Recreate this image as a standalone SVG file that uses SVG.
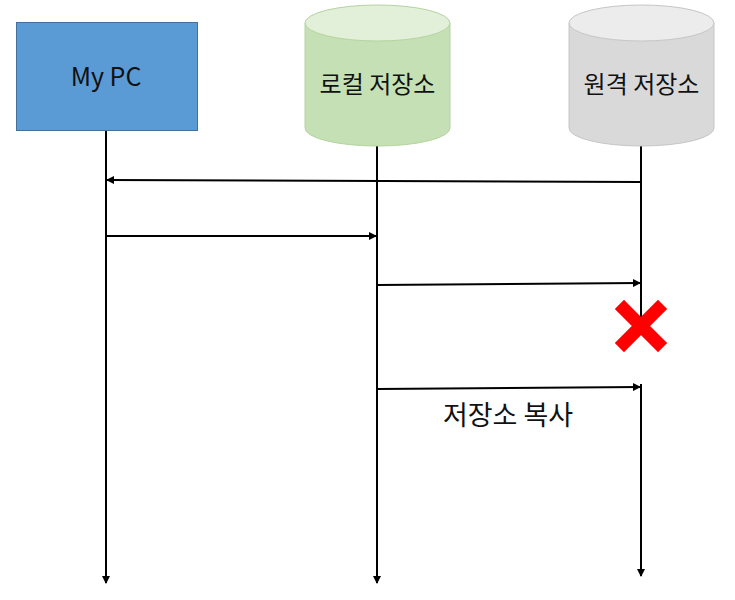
<svg xmlns="http://www.w3.org/2000/svg" width="735" height="600" viewBox="0 0 735 600">
<style>
.t{font-family:"Malgun Gothic","Noto Sans CJK KR","Noto Sans",sans-serif;fill:#111;text-anchor:middle}
.ln{stroke:#000;stroke-width:2;fill:none}
.ar{marker-end:url(#ah)}
</style>
<defs>
<marker id="ah" markerWidth="8" markerHeight="8" refX="7" refY="4" orient="auto" markerUnits="userSpaceOnUse">
<path d="M0,0 L8,4 L0,8 Z" fill="#000"/>
</marker>
</defs>
<rect width="735" height="600" fill="#fff"/>
<g id="connectors">
<line class="ln ar" x1="106" y1="130" x2="106" y2="583"/>
<line class="ln ar" x1="377" y1="146" x2="377" y2="583"/>
<line class="ln" x1="641" y1="146" x2="641" y2="318"/>
<line class="ln ar" x1="641" y1="384" x2="641" y2="576"/>
<line class="ln ar" x1="641" y1="182" x2="107" y2="180"/>
<line class="ln ar" x1="106" y1="236" x2="376" y2="236"/>
<line class="ln ar" x1="377" y1="285" x2="640" y2="283"/>
<line class="ln ar" x1="377" y1="389" x2="640" y2="387"/>
</g>
<g id="mypc">
<rect x="16.5" y="22.5" width="181" height="108" fill="#5b9bd5" stroke="#41719c" stroke-width="1"/>
<text class="t" x="106" y="86" font-size="25">My PC</text>
</g>
<g id="local">
<path d="M305,23 V128 A72.5,18 0 0 0 450,128 V23" fill="#c5e0b4" stroke="#b5d3a0" stroke-width="1"/>
<ellipse cx="377.5" cy="23" rx="72.5" ry="18" fill="#e2f0d9" stroke="#b5d3a0" stroke-width="1"/>
<text class="t" x="377.5" y="93" font-size="24">로컬 저장소</text>
</g>
<g id="remote">
<path d="M569,23 V128 A72.5,18 0 0 0 714,128 V23" fill="#d9d9d9" stroke="#c6c6c6" stroke-width="1"/>
<ellipse cx="641.5" cy="23" rx="72.5" ry="18" fill="#ececec" stroke="#c6c6c6" stroke-width="1"/>
<text class="t" x="641.5" y="93" font-size="24">원격 저장소</text>
</g>
<g id="fail">
<path d="M624,309 L658,343 M658,309 L624,343" stroke="#ff0000" stroke-width="13" stroke-linecap="square"/>
</g>
<g id="label">
<text class="t" x="508" y="425" font-size="27">저장소 복사</text>
</g>
</svg>
